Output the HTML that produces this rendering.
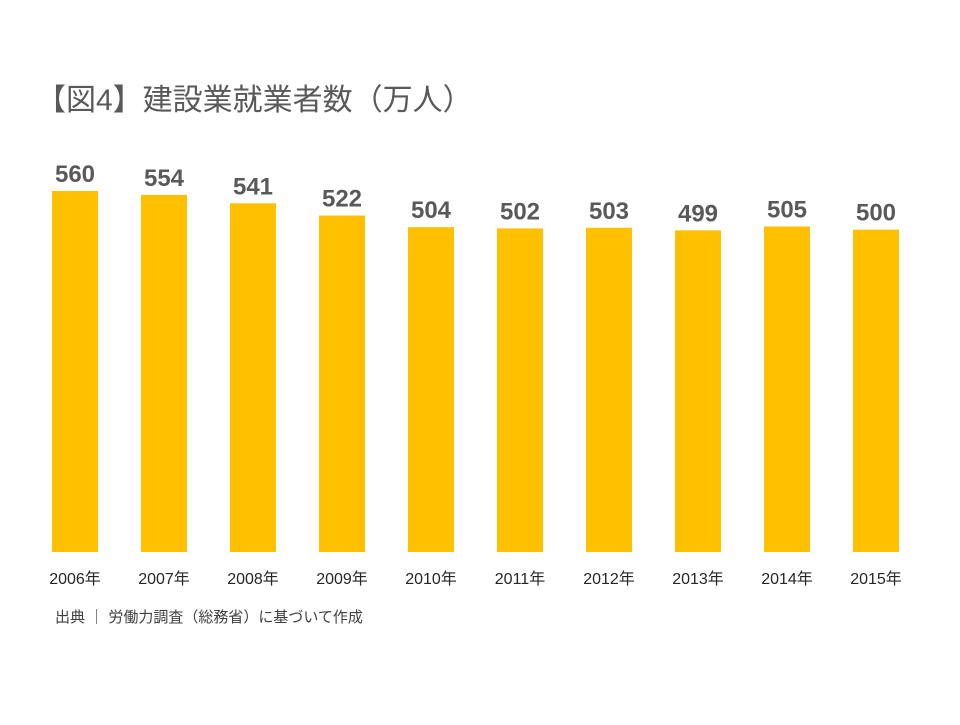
<!DOCTYPE html>
<html><head><meta charset="utf-8"><style>
body{margin:0;background:#fff;}
svg text{font-family:"Liberation Sans","Noto Sans CJK JP",sans-serif;}
</style></head><body>
<svg id="chart" width="960" height="720">
<text x="36" y="110" font-size="30" fill="#595959">【図4】建設業就業者数（万人）</text>
<g id="bars"></g>
<text x="55" y="622" font-size="15" fill="#404040">出典 ｜ 労働力調査（総務省）に基づいて作成</text>
</svg>
<script>
const categories=["2006年","2007年","2008年","2009年","2010年","2011年","2012年","2013年","2014年","2015年"];
const values=[560,554,541,522,504,502,503,499,505,500];
const valueLabels=["560","554","541","522","504","502","503","499","505","500"];
const baseY=552, pxPerUnit=0.6446, x0=52, step=89, bw=46;
const yScale=v=>baseY-v*pxPerUnit;
const xScale=i=>x0+i*step;
const g=document.getElementById('bars');
const NS="http://www.w3.org/2000/svg";
categories.forEach((c,i)=>{
  const x=xScale(i), y=yScale(values[i]);
  const r=document.createElementNS(NS,'rect');
  r.setAttribute('x',x);r.setAttribute('y',y);r.setAttribute('width',bw);r.setAttribute('height',baseY-y);r.setAttribute('fill','#FFC000');
  
  
  g.appendChild(r);
  const t=document.createElementNS(NS,'text');
  t.setAttribute('x',x+bw/2);t.setAttribute('y',y-9);t.setAttribute('text-anchor','middle');
  t.setAttribute('font-size','24');t.setAttribute('font-weight','bold');t.setAttribute('fill','#595959');
  t.textContent=valueLabels[i];
  
  
  g.appendChild(t);
  const l=document.createElementNS(NS,'text');
  l.setAttribute('x',x+bw/2);l.setAttribute('y',584);l.setAttribute('text-anchor','middle');
  l.setAttribute('font-size','16');l.setAttribute('fill','#262626');
  l.textContent=c;
  
  
  g.appendChild(l);
});
</script>
</body></html>
